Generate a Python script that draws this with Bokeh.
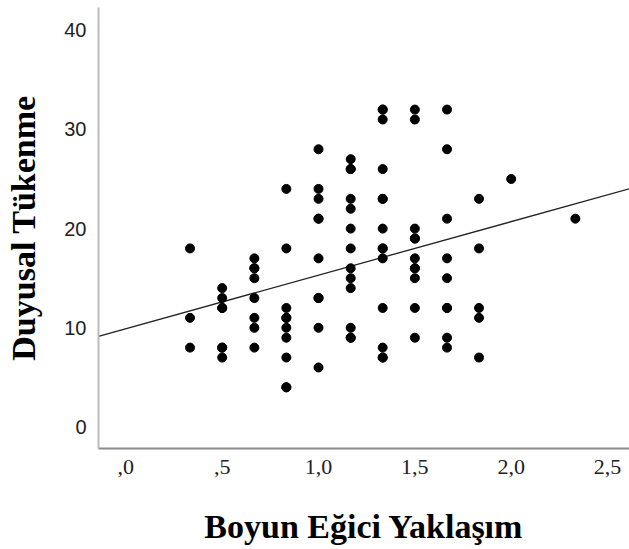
import numpy as np
from bokeh.plotting import figure
from bokeh.models import Range1d, FixedTicker
from bokeh.embed import file_html
from bokeh.resources import INLINE

# Boyun Eğici Yaklaşım (x) levels and Duyusal Tükenme (y) values per level
x_levels = [0.333, 0.5, 0.667, 0.833, 1.0, 1.167, 1.333, 1.5, 1.667, 1.833, 2.0, 2.333]
y_groups = [
    [18, 11, 8],
    [14, 13, 12, 12, 8, 8, 7],
    [17, 16, 16, 15, 13, 11, 10, 8],
    [24, 18, 12, 11, 11, 10, 9, 7, 4, 4],
    [28, 24, 23, 21, 21, 17, 13, 13, 10, 6],
    [27, 26, 26, 23, 22, 20, 18, 16, 15, 14, 10, 9, 9],
    [32, 32, 31, 26, 23, 23, 20, 18, 18, 17, 12, 8, 7, 7],
    [32, 31, 20, 19, 19, 17, 16, 16, 15, 12, 9],
    [32, 28, 21, 17, 15, 12, 12, 9, 8],
    [23, 18, 12, 11, 7],
    [25],
    [21],
]
x_ticks = [0.0, 0.5, 1.0, 1.5, 2.0, 2.5]
x_tick_labels = [",0", ",5", "1,0", "1,5", "2,0", "2,5"]
y_ticks = [0, 10, 20, 30, 40]
x_title = "Boyun Eğici Yaklaşım"
y_title = "Duyusal Tükenme"

xs = []
ys = []
for xv, grp in zip(x_levels, y_groups):
    for yv in grp:
        xs.append(xv)
        ys.append(yv)
xs = np.array(xs, dtype=float)
ys = np.array(ys, dtype=float)

slope, intercept = np.polyfit(xs, ys, 1)

x0, x1 = -0.142, 2.614
y0, y1 = -2.17, 42.29
p = figure(width=629, height=549, output_backend="svg", toolbar_location=None,
           x_range=Range1d(x0, x1), y_range=Range1d(y0, y1),
           min_border_left=98, min_border_right=0, min_border_top=7, min_border_bottom=101)
p.grid.visible = False
p.outline_line_color = None
p.background_fill_color = "white"
p.border_fill_color = "white"

lx = np.array([x0, x1])
p.line(lx, intercept + slope * lx, line_color="#222222", line_width=1.3)
p.scatter(xs, ys, size=9, fill_color="black", line_color="black")

xa = p.xaxis[0]
xa.ticker = FixedTicker(ticks=x_ticks)
xa.major_label_overrides = {t: l for t, l in zip(x_ticks, x_tick_labels)}
xa.major_label_text_font = "Liberation Serif"
xa.major_label_text_font_size = "22px"
xa.major_label_text_color = "#222222"
xa.major_label_standoff = 5
xa.major_tick_line_color = None
xa.minor_tick_line_color = None
xa.axis_line_color = "#8a8a8a"
xa.axis_line_width = 2
xa.axis_label = x_title
xa.axis_label_text_font = "Liberation Serif"
xa.axis_label_text_font_style = "bold"
xa.axis_label_text_font_size = "34px"
xa.axis_label_text_color = "black"
xa.axis_label_standoff = 31

ya = p.yaxis[0]
ya.ticker = FixedTicker(ticks=y_ticks)
ya.major_label_text_font = "Liberation Sans"
ya.major_label_text_font_size = "20px"
ya.major_label_text_color = "#222222"
ya.major_label_standoff = 6
ya.major_tick_line_color = None
ya.minor_tick_line_color = None
ya.axis_line_color = "#bbbbbb"
ya.axis_line_width = 2
ya.axis_label = y_title
ya.axis_label_text_font = "Liberation Serif"
ya.axis_label_text_font_style = "bold"
ya.axis_label_text_font_size = "34px"
ya.axis_label_text_color = "black"
ya.axis_label_standoff = 19

open("out.html", "w").write(file_html(p, INLINE))
